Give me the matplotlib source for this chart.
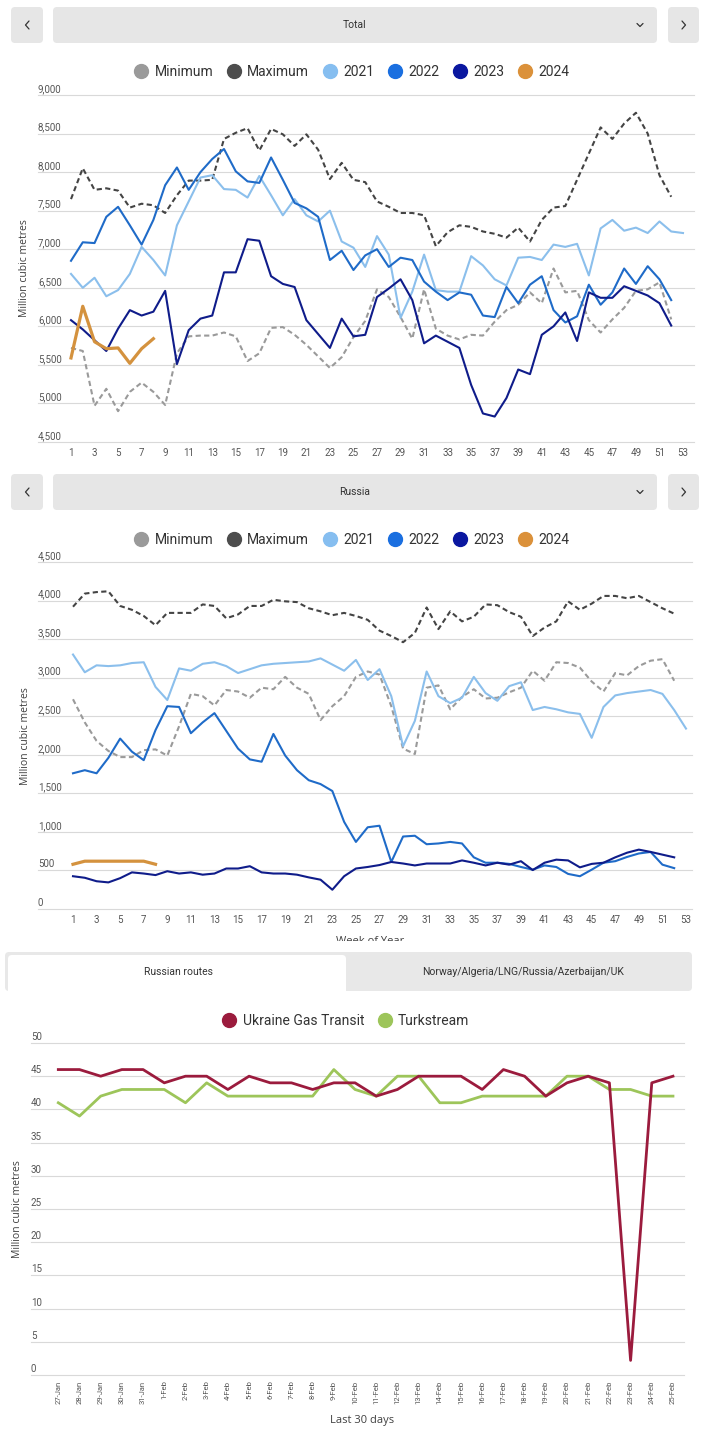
import matplotlib
matplotlib.use('Agg')
import matplotlib.pyplot as plt
import matplotlib.transforms as mtransforms
from matplotlib.lines import Line2D
from matplotlib.patches import FancyBboxPatch, Rectangle
from matplotlib import font_manager as fm

# ---------------- DATA ----------------
weeks52 = list(range(1, 53))
weeks53 = list(range(1, 54))
weeks8 = list(range(1, 9))
week_ticks = list(range(1, 54, 2))

series_names = ['Minimum', 'Maximum', '2021', '2022', '2023', '2024']

total_min = [5720, 5680, 4970, 5190, 4900, 5150, 5270, 5150, 4980, 5650,
             5870, 5880, 5880, 5920, 5870, 5550, 5650, 5980, 5990, 5890,
             5760, 5610, 5460, 5600, 5860, 6070, 6480, 6380, 6120, 5840,
             6480, 5970, 5880, 5830, 5890, 5880, 6060, 6210, 6280, 6440,
             6300, 6750, 6440, 6460, 6080, 5920, 6090, 6240, 6460, 6480,
             6570, 6090]
total_max = [7650, 8050, 7770, 7790, 7760, 7540, 7590, 7570, 7470, 7700,
             7890, 7890, 7900, 8430, 8510, 8570, 8280, 8560, 8490, 8340,
             8490, 8290, 7910, 8120, 7900, 7870, 7620, 7550, 7470, 7470,
             7440, 7040, 7220, 7310, 7290, 7230, 7200, 7150, 7280, 7100,
             7380, 7540, 7560, 7900, 8240, 8580, 8430, 8630, 8770, 8500,
             7960, 7680]
total_2021 = [6680, 6500, 6630, 6390, 6470, 6680, 7030, 6860, 6660, 7310,
              7620, 7930, 7960, 7780, 7770, 7670, 7950, 7700, 7440, 7650,
              7440, 7360, 7500, 7100, 7020, 6770, 7170, 6930, 6110, 6450,
              6930, 6470, 6450, 6450, 6910, 6790, 6610, 6530, 6890, 6900,
              6860, 7060, 7030, 7070, 6660, 7270, 7380, 7240, 7280, 7210,
              7360, 7230, 7210]
total_2022 = [6850, 7090, 7080, 7420, 7550, 7310, 7060, 7380, 7830, 8060,
              7770, 8000, 8170, 8300, 8010, 7880, 7860, 8190, 7900, 7600,
              7530, 7420, 6860, 6980, 6730, 6920, 7000, 6770, 6890, 6860,
              6580, 6450, 6340, 6440, 6410, 6140, 6120, 6510, 6300, 6540,
              6650, 6210, 6050, 6130, 6540, 6280, 6440, 6750, 6550, 6780,
              6610, 6340]
total_2023 = [6080, 5960, 5820, 5680, 5970, 6210, 6140, 6190, 6460, 5510,
              5950, 6100, 6140, 6700, 6700, 7130, 7110, 6650, 6550, 6510,
              6080, 5900, 5720, 6100, 5870, 5890, 6380, 6490, 6610, 6340,
              5780, 5880, 5800, 5720, 5240, 4870, 4830, 5070, 5440, 5380,
              5890, 6000, 6180, 5810, 6440, 6370, 6370, 6520, 6460, 6400,
              6300, 6010]
total_2024 = [5590, 6260, 5800, 5710, 5720, 5520, 5710, 5840]

russia_min = [2720, 2420, 2180, 2050, 1970, 1970, 2060, 2070, 1990, 2370,
              2790, 2760, 2640, 2840, 2820, 2740, 2870, 2850, 3010, 2870,
              2790, 2450, 2630, 2760, 3010, 3080, 3040, 2630, 2080, 2010,
              2870, 2900, 2590, 2750, 2850, 2730, 2740, 2810, 2870, 3090,
              2960, 3200, 3190, 3130, 2950, 2820, 3060, 3030, 3150, 3220,
              3240, 2960]
russia_max = [3920, 4090, 4110, 4120, 3930, 3880, 3800, 3680, 3840, 3840,
              3840, 3950, 3930, 3770, 3820, 3930, 3930, 4010, 3990, 3980,
              3900, 3860, 3810, 3840, 3800, 3750, 3610, 3540, 3460, 3580,
              3910, 3630, 3860, 3730, 3790, 3950, 3940, 3850, 3790, 3540,
              3650, 3730, 3990, 3880, 3960, 4060, 4060, 4030, 4060, 3980,
              3900, 3830]
russia_2021 = [3300, 3070, 3160, 3150, 3160, 3190, 3200, 2880, 2710, 3120,
               3090, 3180, 3200, 3150, 3060, 3110, 3160, 3180, 3190, 3200,
               3210, 3250, 3170, 3090, 3230, 2970, 3110, 2760, 2110, 2440,
               3080, 2760, 2670, 2740, 3010, 2800, 2700, 2890, 2940, 2580,
               2620, 2590, 2550, 2530, 2220, 2620, 2770, 2800, 2820, 2840,
               2790, 2580, 2340]
russia_2022 = [1760, 1800, 1760, 1960, 2210, 2040, 1930, 2320, 2630, 2620,
               2280, 2420, 2540, 2310, 2080, 1940, 1910, 2270, 1990, 1800,
               1670, 1620, 1530, 1130, 870, 1060, 1080, 610, 940, 950,
               840, 850, 870, 850, 670, 600, 600, 585, 545, 510,
               565, 545, 455, 425, 510, 600, 620, 675, 720, 740,
               575, 530]
russia_2023 = [425, 405, 360, 345, 400, 475, 460, 440, 490, 460,
               475, 445, 460, 525, 525, 555, 475, 460, 460, 445,
               410, 380, 250, 425, 525, 545, 570, 610, 590, 565,
               590, 590, 590, 630, 600, 565, 600, 575, 620, 505,
               600, 640, 630, 540, 585, 600, 670, 730, 770, 740,
               705, 670]
russia_2024 = [580, 620, 620, 620, 620, 620, 620, 580]

route_days = ['27-Jan', '28-Jan', '29-Jan', '30-Jan', '31-Jan',
              '1-Feb', '2-Feb', '3-Feb', '4-Feb', '5-Feb', '6-Feb', '7-Feb',
              '8-Feb', '9-Feb', '10-Feb', '11-Feb', '12-Feb', '13-Feb',
              '14-Feb', '15-Feb', '16-Feb', '17-Feb', '18-Feb', '19-Feb',
              '20-Feb', '21-Feb', '22-Feb', '23-Feb', '24-Feb', '25-Feb']
ukraine_transit = [46, 46, 45, 46, 46, 44, 45, 45, 43, 45, 44, 44, 43, 44, 44,
                   42, 43, 45, 45, 45, 43, 46, 45, 42, 44, 45, 44, 2.2, 44, 45]
turkstream = [41, 39, 42, 43, 43, 43, 41, 44, 42, 42, 42, 42, 42, 46, 43,
              42, 45, 45, 41, 41, 42, 42, 42, 42, 45, 45, 43, 43, 42, 42]

total_ticks = [4500, 5000, 5500, 6000, 6500, 7000, 7500, 8000, 8500, 9000]
russia_ticks = [0, 500, 1000, 1500, 2000, 2500, 3000, 3500, 4000, 4500]
route_ticks = [0, 5, 10, 15, 20, 25, 30, 35, 40, 45, 50]

# ---------------- STYLE ----------------
C_MIN, C_MAX = '#9A9A9A', '#444444'
C21, C22, C23, C24 = '#8BBFEC', '#1F6BC8', '#0F1C8A', '#D4923E'
C_LEG = ['#9A9A9A', '#4D4D4D', '#86BEF0', '#1A6FE0', '#0A17A0', '#DB913A']
C_UKR, C_TRK = '#9B1B3D', '#9DC55A'

W, H, DPI = 710, 1435, 100
avail = {f.name for f in fm.fontManager.ttflist}
UI = 'Roboto' if 'Roboto' in avail else 'DejaVu Sans'
LBL = 'Open Sans' if 'Open Sans' in avail else 'DejaVu Sans'
plt.rcParams['font.family'] = [UI, 'DejaVu Sans']

fig = plt.figure(figsize=(W / DPI, H / DPI), dpi=DPI, facecolor='white')
PX = mtransforms.Affine2D().scale(1.0 / DPI) + fig.dpi_scale_trans


def fy(y):
    return H - y


def box(x0, y0, x1, y1, fc, r=4, z=1):
    p = FancyBboxPatch((x0, fy(y1)), x1 - x0, y1 - y0,
                       boxstyle=f'round,pad=0,rounding_size={r}',
                       transform=PX, fc=fc, ec='none', zorder=z)
    fig.add_artist(p)


def ftext(x, y, s, **kw):
    return fig.text(x / W, 1 - y / H, s, **kw)


def polyline(pts, z=3):
    xs = [p[0] for p in pts]
    ys = [fy(p[1]) for p in pts]
    fig.add_artist(Line2D(xs, ys, transform=PX, color='#333333', lw=0.9,
                          zorder=z, solid_capstyle='round'))


def nav(ytop, ybot, title):
    yc = (ytop + ybot) / 2
    box(11, ytop, 43, ybot, '#E6E6E6')
    box(53, ytop, 657, ybot, '#E6E6E6')
    box(668, ytop, 699, ybot, '#E6E6E6')
    ftext(355, yc, title, ha='center', va='center', fontsize=7.5,
          color='#333333', zorder=3)
    polyline([(29, yc - 4), (25.5, yc), (29, yc + 4)])
    polyline([(682, yc - 4), (685.5, yc), (682, yc + 4)])
    polyline([(637, yc - 1.5), (640, yc + 1.5), (643, yc - 1.5)])


def legend(yc, names, colors, xc=352):
    handles = [Line2D([], [], ls='', marker='o', markersize=10,
                      mfc=c, mec=c) for c in colors]
    fig.legend(handles, names, loc='center',
               bbox_to_anchor=(xc / W, 1 - yc / H), ncol=len(names),
               frameon=False, fontsize=10, handlelength=1.0,
               handletextpad=0.45, columnspacing=1.0, borderaxespad=0,
               borderpad=0, labelcolor='#333333')


def make_axes(x0, y0, x1, y1, xlim, ylim):
    ax = fig.add_axes([x0 / W, 1 - y1 / H, (x1 - x0) / W, (y1 - y0) / H])
    ax.set_xlim(*xlim)
    ax.set_ylim(*ylim)
    ax.set_facecolor('none')
    for s in ax.spines.values():
        s.set_visible(False)
    ax.set_yticks([])
    ax.tick_params(axis='x', length=0, labelsize=7, labelcolor='#555555',
                   pad=4)
    return ax


def ygrid(ax, ticks, fmt, dy=6):
    tr = mtransforms.blended_transform_factory(ax.transAxes, ax.transData)
    off = mtransforms.offset_copy(tr, fig=fig, x=0, y=dy, units='dots')
    for t in ticks:
        ax.axhline(t, color='#D9D9D9', lw=0.8, zorder=0, clip_on=False)
        ax.text(0, t, fmt(t), transform=off, ha='left', va='center',
                fontsize=7, color='#555555')


def week_panel(ax, mn, mx, s21, s22, s23, s24):
    dash = (0, (2.5, 1.6))
    ax.plot(weeks52, mn, color=C_MIN, lw=1.5, ls=dash, zorder=2)
    ax.plot(weeks52, mx, color=C_MAX, lw=1.5, ls=dash, zorder=2)
    ax.plot(weeks53, s21, color=C21, lw=1.5, zorder=3)
    ax.plot(weeks52, s22, color=C22, lw=1.5, zorder=4)
    ax.plot(weeks52, s23, color=C23, lw=1.5, zorder=5)
    ax.plot(weeks8, s24, color=C24, lw=2.3, zorder=6)
    ax.set_xticks(week_ticks)
    ax.set_xticklabels([str(w) for w in week_ticks])


fmt_thousands = lambda v: f'{int(v):,}'

# ---------------- TOTAL ----------------
nav(7, 43, 'Total')
legend(72, series_names, C_LEG)
ax1 = make_axes(38, 95, 694, 442, (-1.804, 53.935), (4500, 9000))
ygrid(ax1, total_ticks, fmt_thousands)
week_panel(ax1, total_min, total_max, total_2021, total_2022, total_2023,
           total_2024)
ftext(25, 268, 'Million cubic metres', rotation=90, ha='center',
      va='center', fontsize=7.5, color='#404040', family=LBL)

# ---------------- RUSSIA ----------------
nav(474, 510, 'Russia')
legend(540, series_names, C_LEG)
ax2 = make_axes(38, 562, 692, 909, (-1.969, 53.51), (0, 4500))
ygrid(ax2, russia_ticks, fmt_thousands)
week_panel(ax2, russia_min, russia_max, russia_2021, russia_2022,
           russia_2023, russia_2024)
ftext(26, 736, 'Million cubic metres', rotation=90, ha='center',
      va='center', fontsize=7.5, color='#404040', family=LBL)
ftext(370, 941, 'Week of Year', ha='center', va='center', fontsize=8,
      color='#404040', family=LBL)
fig.add_artist(Rectangle((0, fy(953)), W, 12, transform=PX, fc='white',
                         ec='none', zorder=5))

# ---------------- TABS ----------------
box(5, 952, 692, 991, '#E8E8E8', r=4, z=6)
box(8, 955, 346, 993, 'white', r=4, z=7)
fig.add_artist(Rectangle((8, fy(993)), 338, 10, transform=PX, fc='white',
                         ec='none', zorder=7))
ftext(178, 972, 'Russian routes', ha='center', va='center', fontsize=7.5,
      color='#333333', zorder=8)
ftext(523, 972, 'Norway/Algeria/LNG/Russia/Azerbaijan/UK', ha='center',
      va='center', fontsize=7.5, color='#333333', zorder=8)

# ---------------- ROUTES ----------------
legend(1021, ['Ukraine Gas Transit', 'Turkstream'], [C_UKR, C_TRK], xc=346)
ax3 = make_axes(31, 1043, 684, 1375, (-1.288, 29.52), (0, 50))
ygrid(ax3, route_ticks, lambda v: str(int(v)))
days_idx = list(range(len(route_days)))
ax3.plot(days_idx, ukraine_transit, color=C_UKR, lw=2.0, zorder=4)
ax3.plot(days_idx, turkstream, color=C_TRK, lw=2.0, zorder=3)
ax3.set_xticks(days_idx)
ax3.set_xticklabels(route_days, rotation=90, fontsize=5.5)
ax3.tick_params(axis='x', pad=4)
ftext(18, 1209, 'Million cubic metres', rotation=90, ha='center',
      va='center', fontsize=7.5, color='#404040', family=LBL)
ftext(362, 1420, 'Last 30 days', ha='center', va='center', fontsize=8,
      color='#404040', family=LBL)

fig.savefig('out.png', dpi=DPI, facecolor='white')
